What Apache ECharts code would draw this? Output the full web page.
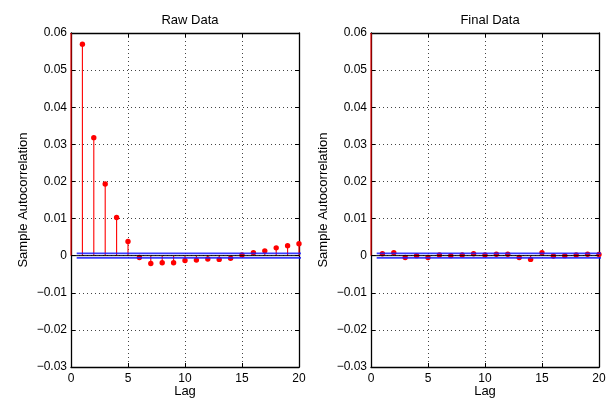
<!DOCTYPE html>
<html>
<head>
<meta charset="utf-8">
<script src="https://cdn.jsdelivr.net/npm/echarts@6/dist/echarts.min.js"></script>
<style>html,body{margin:0;padding:0;background:#fff}#c{width:610px;height:400px}</style>
</head>
<body>
<div id="c"></div>
<script>
var lags = [0,1,2,3,4,5,6,7,8,9,10,11,12,13,14,15,16,17,18,19,20];
var rawAcf = [1,0.0570,0.0318,0.0193,0.0103,0.0038,-0.0005,-0.0021,-0.0019,-0.0019,-0.0013,-0.0012,-0.0009,-0.0010,-0.0007,0.0002,0.0008,0.0013,0.0021,0.0027,0.0032];
var finalAcf = [1,0.0005,0.0008,-0.0005,0.0000,-0.0005,0.0002,0.0000,0.0002,0.0005,0.0002,0.0004,0.0004,-0.0005,-0.0010,0.0008,-0.0001,0.0000,0.0002,0.0004,0.0003];
var rawBound = 0.0006;
var finalBound = 0.0006;
var titles = ['Raw Data','Final Data'];
var yTicks = {min:-0.03, max:0.06, interval:0.01};
var xTicks = {min:0, max:20, interval:5};

var FONT = 'Liberation Sans, Arial, Helvetica, sans-serif';
function fmtY(v){
  if (Math.abs(v) < 1e-9) return '0';
  return String(+v.toFixed(2)).replace('-', '\u2212');
}
var grids = [
  {left:71, top:33, width:228, height:334, outerBoundsMode:'none', containLabel:false},
  {left:371, top:33, width:228, height:334, outerBoundsMode:'none', containLabel:false}
];
var splitStyle = {show:true, lineStyle:{color:'#444', type:[1,3], width:1}};
var xAxes = [], yAxes = [], series = [], titleArr = [];
[rawAcf, finalAcf].forEach(function(acf, i){
  var bound = i === 0 ? rawBound : finalBound;
  xAxes.push({gridIndex:i, type:'value', min:xTicks.min, max:xTicks.max, interval:xTicks.interval, position:'bottom',
    name:'Lag', nameLocation:'middle', nameGap:18, nameMoveOverlap:false,
    nameTextStyle:{fontFamily:FONT, fontSize:13, color:'#000'},
    axisLine:{show:true, onZero:false, lineStyle:{color:'#000', width:1.3}},
    axisTick:{show:true, inside:true, length:4, lineStyle:{color:'#000'}},
    axisLabel:{fontFamily:FONT, fontSize:12, color:'#000', margin:6},
    splitLine:splitStyle});
  xAxes.push({gridIndex:i, type:'value', min:xTicks.min, max:xTicks.max, interval:xTicks.interval, position:'top',
    axisLine:{show:true, onZero:false, lineStyle:{color:'#000', width:1.3}},
    axisTick:{show:true, inside:true, length:4, lineStyle:{color:'#000'}},
    axisLabel:{show:false}, splitLine:{show:false}});
  yAxes.push({gridIndex:i, type:'value', min:yTicks.min, max:yTicks.max, interval:yTicks.interval, position:'left',
    name:'Sample Autocorrelation', nameLocation:'middle', nameGap:41, nameRotate:90, nameMoveOverlap:false,
    nameTextStyle:{fontFamily:FONT, fontSize:13, color:'#000'},
    axisLine:{show:true, onZero:false, lineStyle:{color:'#000', width:1.3}},
    axisTick:{show:true, inside:true, length:4, lineStyle:{color:'#000'}},
    axisLabel:{fontFamily:FONT, fontSize:12, color:'#000', margin:4, formatter:fmtY},
    splitLine:splitStyle});
  yAxes.push({gridIndex:i, type:'value', min:yTicks.min, max:yTicks.max, interval:yTicks.interval, position:'right',
    axisLine:{show:true, onZero:false, lineStyle:{color:'#000', width:1.3}},
    axisTick:{show:true, inside:true, length:4, lineStyle:{color:'#000'}},
    axisLabel:{show:false}, splitLine:{show:false}});
  titleArr.push({text:titles[i], left: grids[i].left + grids[i].width/2, textAlign:'center', top:9,
    textStyle:{fontFamily:FONT, fontSize:13, fontWeight:'normal', color:'#000'}});
  var data = lags.map(function(l, k){ return [l, acf[k]]; });
  series.push({type:'custom', xAxisIndex:2*i, yAxisIndex:2*i, clip:false, z:3, data:data,
    encode:{x:0, y:1},
    renderItem:function(params, api){
      var x = api.value(0), y = api.value(1);
      var cs = params.coordSys;
      var p0 = api.coord([x, 0]), p1 = api.coord([x, y]);
      var top = cs.y, bottom = cs.y + cs.height;
      var inside = p1[1] >= top && p1[1] <= bottom;
      var y2 = Math.min(Math.max(p1[1], top), bottom);
      var children = [
        {type:'line', shape:{x1:p0[0], y1:p0[1], x2:p1[0], y2:y2}, style:{stroke:'#ff0000', lineWidth:1.1}}
      ];
      if (inside) children.push({type:'circle', shape:{cx:p1[0], cy:p1[1], r:2.7}, style:{fill:'#ff0000'}});
      return {type:'group', children:children};
    }});
  [bound, -bound].forEach(function(b){
    series.push({type:'line', xAxisIndex:2*i, yAxisIndex:2*i, clip:true, z:4, symbol:'none', silent:true,
      data:[[0.5, b],[lags[lags.length-1]+0.5, b]], lineStyle:{color:'#1a1aff', width:1.8, opacity:0.85}});
  });
  series.push({type:'line', xAxisIndex:2*i, yAxisIndex:2*i, clip:true, z:5, symbol:'none', silent:true,
    data:[[0,0],[lags[lags.length-1],0]], lineStyle:{color:'#000', width:1}});
});
var chart = echarts.init(document.getElementById('c'), null, {renderer:'canvas'});
chart.setOption({
  animation:false,
  backgroundColor:'#fff',
  title:titleArr,
  grid:grids,
  xAxis:xAxes,
  yAxis:yAxes,
  series:series
});
</script>
</body>
</html>
